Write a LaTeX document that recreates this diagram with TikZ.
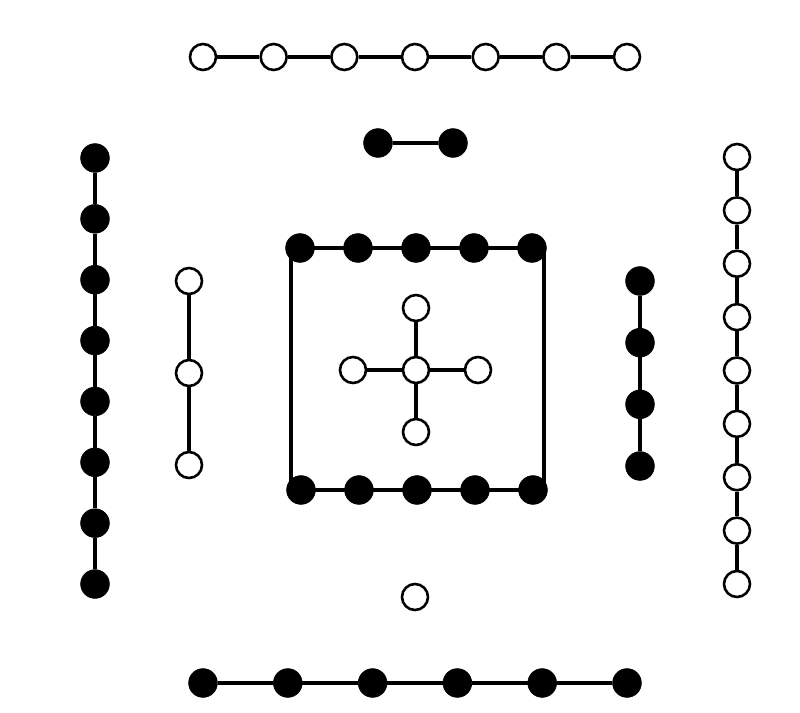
\documentclass[tikz,border=0pt]{standalone}
\begin{document}
\begin{tikzpicture}[x=0.03cm,y=-0.03cm,
  yin/.style={circle,fill=black,draw=black,line width=0.6pt,minimum size=0.86cm,inner sep=0pt},
  yang/.style={circle,fill=white,draw=black,line width=2.2pt,minimum size=0.78cm,inner sep=0pt},
  link/.style={line width=2.6pt}]
\useasboundingbox (0,0) rectangle (800,713);
% central square frame
\coordinate (sqtl) at (291,248);
\coordinate (sqtr) at (544,248);
\coordinate (sqbr) at (544,490);
\coordinate (sqbl) at (291,490);
\draw[link] (sqtl) -- (sqtr) -- (sqbr) -- (sqbl) -- cycle;
% top: 7 white
\foreach \i [evaluate=\i as \xx using 203+(\i-1)*70.67] in {1,...,7}
  \node[yang] (t\i) at (\xx,57) {};
\draw[link] (t1)--(t2) (t2)--(t3) (t3)--(t4) (t4)--(t5) (t5)--(t6) (t6)--(t7);
% two black
\node[yin] (p1) at (378,143) {};
\node[yin] (p2) at (453,143) {};
\draw[link] (p1)--(p2);
% left black column 8
\foreach \i [evaluate=\i as \yy using 158+(\i-1)*60.86] in {1,...,8}
  \node[yin] (l\i) at (95,\yy) {};
\draw[link] (l1)--(l2) (l2)--(l3) (l3)--(l4) (l4)--(l5) (l5)--(l6) (l6)--(l7) (l7)--(l8);
% left white column 3
\node[yang] (w1) at (189,281) {};
\node[yang] (w2) at (189,373) {};
\node[yang] (w3) at (189,465) {};
\draw[link] (w1)--(w2) (w2)--(w3);
% right black column 4
\foreach \i [evaluate=\i as \yy using 281+(\i-1)*61.67] in {1,...,4}
  \node[yin] (r\i) at (640,\yy) {};
\draw[link] (r1)--(r2) (r2)--(r3) (r3)--(r4);
% right white column 9
\foreach \i [evaluate=\i as \yy using 157+(\i-1)*53.375] in {1,...,9}
  \node[yang] (v\i) at (737,\yy) {};
\draw[link] (v1)--(v2) (v2)--(v3) (v3)--(v4) (v4)--(v5) (v5)--(v6) (v6)--(v7) (v7)--(v8) (v8)--(v9);
% square black rows
\foreach \i [evaluate=\i as \xx using 300+(\i-1)*58] in {1,...,5}{
  \node[yin] (qa\i) at (\xx,248) {};
  \node[yin] (qb\i) at (\xx+1,490) {};
}
\draw[link] (qa1)--(qa2) (qa2)--(qa3) (qa3)--(qa4) (qa4)--(qa5);
\draw[link] (qb1)--(qb2) (qb2)--(qb3) (qb3)--(qb4) (qb4)--(qb5);
% central cross
\node[yang] (c) at (416,370) {};
\node[yang] (cn) at (416,308) {};
\node[yang] (cs) at (416,432) {};
\node[yang] (cw) at (353,370) {};
\node[yang] (ce) at (478,370) {};
\draw[link] (c)--(cn) (c)--(cs) (c)--(cw) (c)--(ce);
% bottom single white
\node[yang] (b0) at (415,597) {};
% bottom black row 6
\foreach \i [evaluate=\i as \xx using 203+(\i-1)*84.8] in {1,...,6}
  \node[yin] (b\i) at (\xx,683) {};
\draw[link] (b1)--(b2) (b2)--(b3) (b3)--(b4) (b4)--(b5) (b5)--(b6);
\end{tikzpicture}
\end{document}
